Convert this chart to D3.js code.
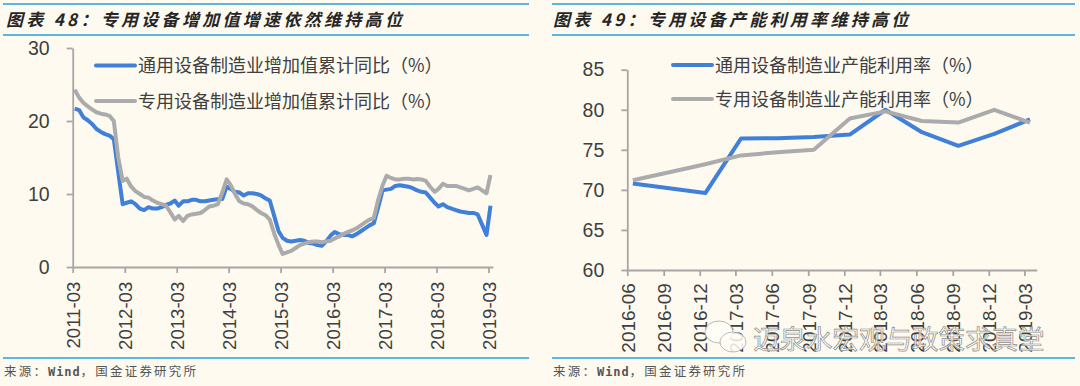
<!DOCTYPE html>
<html>
<head>
<meta charset="utf-8">
<script src="https://cdn.jsdelivr.net/npm/d3@7"></script>
<style>
    html, body { margin: 0; padding: 0; background: #fefaf0; }
    svg { display: block; }
    .axis path, .axis line { stroke: #a8a6a2; stroke-width: 1.8px; }
    .axis text { fill: #3f3f3f; font-family: "Liberation Sans", sans-serif; }
    .title { font-family: "Noto Sans CJK SC"; font-weight: 700; font-style: italic; font-size: 17px; fill: #262626; letter-spacing: 3.3px; }
    .source { font-family: "Noto Sans CJK SC"; font-size: 12.5px; fill: #555; letter-spacing: 2.2px; }
    .source .latin { font-family: "DejaVu Sans Mono"; font-size: 12px; font-weight: 700; letter-spacing: 0.9px; }
    .legend { font-family: "Noto Sans CJK SC"; font-size: 18px; fill: #404040; }
    .series { fill: none; stroke-width: 4px; stroke-linejoin: round; }
    .mark { font-family: "Noto Sans CJK SC"; font-size: 26.5px; fill: #fffdf6; fill-opacity: 0.75; stroke: #8d8d8d; stroke-width: 0.7px; }
</style>
</head>
<body>
<svg id="page" width="1080" height="386"></svg>
<script>
    var BLUE = "#4080d8", GRAY = "#ababab", RULE = "#5db7dd";
    // full width punctuation
    var COLON = "\uFF1A", COMMA = "\uFF0C", PCT = "\uFF08%\uFF09";

    // monthly, 2011-03 to 2019-03
    var generalAdded = [
        21.7, 21.5, 20.5, 20.1, 19.6, 18.9, 18.5, 18.2, 18.0, 17.5, 13.0, 8.6,
        8.8, 9.0, 8.6, 8.0, 7.8, 8.2, 8.0, 8.0, 8.2, 8.5, 8.7, 9.1,
        8.4, 9.0, 9.0, 9.2, 9.2, 9.0, 9.0, 9.1, 9.2, 9.3, 9.3, 11.0,
        10.7, 10.3, 10.2, 9.8, 10.1, 10.1, 10.0, 9.8, 9.4, 9.1, 7.0, 4.9,
        4.0, 3.6, 3.5, 3.6, 3.7, 3.6, 3.3, 3.2, 3.0, 2.9, 3.5, 4.3,
        4.8, 4.5, 4.4, 4.4, 4.2, 4.5, 4.9, 5.3, 5.7, 6.0, 8.2, 10.5,
        10.6, 10.7, 11.1, 11.2, 11.1, 11.0, 10.8, 10.5, 10.3, 10.2, 9.5, 8.8,
        8.3, 8.6, 8.2, 8.0, 7.8, 7.6, 7.5, 7.4, 7.4, 7.2, 5.8, 4.4, 8.4
    ];
    var specialAdded = [
        24.3, 23.2, 22.5, 22.0, 21.6, 21.2, 21.0, 20.9, 20.7, 20.0, 15.0, 11.8,
        12.1, 11.0, 10.4, 10.0, 9.6, 9.5, 9.1, 8.8, 8.6, 8.4, 7.5, 6.5,
        7.0, 6.3, 7.0, 7.2, 7.3, 7.4, 7.8, 8.3, 8.4, 8.6, 10.2, 12.0,
        11.2, 10.0, 9.0, 8.7, 8.6, 8.3, 7.8, 7.4, 7.1, 6.5, 4.6, 3.0,
        1.8, 2.0, 2.2, 2.6, 3.0, 3.2, 3.4, 3.5, 3.5, 3.4, 3.5, 3.6,
        3.9, 4.2, 4.5, 4.8, 5.0, 5.3, 5.7, 6.1, 6.5, 6.7, 9.2, 11.2,
        12.5, 12.2, 12.0, 12.0, 12.1, 12.1, 12.0, 12.05, 12.0, 11.8, 11.0, 10.3,
        10.7, 11.4, 11.1, 11.1, 11.1, 10.9, 10.7, 10.5, 10.7, 10.9, 10.5, 10.1, 12.6
    ];
    var addedTicks = ["2011-03", "2012-03", "2013-03", "2014-03", "2015-03", "2016-03", "2017-03", "2018-03", "2019-03"];

    // quarterly, 2016-06 to 2019-03
    var capacityTicks = ["2016-06", "2016-09", "2016-12", "2017-03", "2017-06", "2017-09", "2017-12", "2018-03", "2018-06", "2018-09", "2018-12", "2019-03"];
    var generalCapacity = [70.8, 70.2, 69.6, 76.4, 76.45, 76.6, 76.9, 80.0, 77.2, 75.5, 77.0, 78.8];
    var specialCapacity = [71.2, 72.2, 73.2, 74.3, 74.7, 75.0, 78.9, 79.8, 78.6, 78.4, 80.0, 78.4];

    var parseMonth = d3.utcParse("%Y-%m");
    var formatMonth = d3.utcFormat("%Y-%m");
    var svg = d3.select("#page");

    // observations sit mid-month, ticks on the first of the month
    function midMonth(date) { return d3.utcDay.offset(date, 14); }

    function drawPanel(panel) {
        var g = svg.append("g");
        var x = d3.scaleUtc().domain(panel.xDomain).range(panel.xRange);
        var y = d3.scaleLinear().domain(panel.yDomain).range(panel.yRange);
        var line = d3.line()
            .x(function(d) { return x(midMonth(d.date)); })
            .y(function(d) { return y(d.value); });

        // rules and header
        [4, 35, 358].forEach(function(ry) {
            g.append("line").attr("x1", panel.ruleX[0]).attr("x2", panel.ruleX[1])
                .attr("y1", ry).attr("y2", ry)
                .attr("stroke", RULE).attr("stroke-width", 1.8);
        });
        g.append("text").attr("class", "title").attr("x", panel.titleX).attr("y", 26).text(panel.title);
        var source = g.append("text").attr("class", "source").attr("x", panel.ruleX[0] + 1).attr("y", 375.5);
        source.append("tspan").text("来源" + COLON);
        source.append("tspan").attr("class", "latin").text("Wind");
        source.append("tspan").text(COMMA + "国金证券研究所");

        var xAxis = d3.axisBottom(x)
            .tickValues(panel.ticks.map(parseMonth))
            .tickFormat(formatMonth)
            .tickSizeInner(6).tickSizeOuter(0);
        g.append("g").attr("class", "axis")
            .attr("transform", "translate(0," + panel.yRange[0] + ")")
            .call(xAxis)
            .selectAll("text")
            .style("font-size", panel.xFont + "px")
            .attr("transform", "rotate(-90)")
            .attr("text-anchor", "end")
            .attr("x", -panel.xOffset).attr("y", 0).attr("dy", "0.36em");

        var yAxis = d3.axisLeft(y).tickValues(panel.yTicks).tickSizeInner(6).tickSizeOuter(0).tickPadding(17);
        g.append("g").attr("class", "axis")
            .attr("transform", "translate(" + panel.xRange[0] + ",0)")
            .call(yAxis)
            .selectAll("text").style("font-size", "19.5px");

        // gray goes on top of blue
        panel.series.forEach(function(s) {
            g.append("path").datum(s.values.map(function(v, i) {
                return { date: panel.dates[i], value: v };
            })).attr("class", "series").attr("stroke", s.color).attr("d", line);
        });

        panel.series.forEach(function(s, i) {
            var ly = panel.legendY[i];
            g.append("line").attr("x1", panel.legendX).attr("x2", panel.legendX + 39)
                .attr("y1", ly).attr("y2", ly)
                .attr("stroke", s.color).attr("stroke-width", 4).attr("stroke-linecap", "round");
            g.append("text").attr("class", "legend").attr("x", panel.legendX + 42).attr("y", ly + 6.5).text(s.name);
        });
    }

    drawPanel({
        title: "图表 48" + COLON + "专用设备增加值增速依然维持高位",
        titleX: 6,
        ruleX: [3, 529],
        ticks: addedTicks,
        dates: d3.utcMonth.range(parseMonth("2011-03"), parseMonth("2019-04")),
        xDomain: [parseMonth("2011-03"), parseMonth("2019-04")],
        xRange: [72.7, 492.9],
        yDomain: [0, 30],
        yRange: [267, 48],
        yTicks: [0, 10, 20, 30],
        xFont: 18.6,
        xOffset: 14.7,
        legendX: 96,
        legendY: [65.5, 101],
        series: [
            { name: "通用设备制造业增加值累计同比" + PCT, color: BLUE, values: generalAdded },
            { name: "专用设备制造业增加值累计同比" + PCT, color: GRAY, values: specialAdded }
        ]
    });

    drawPanel({
        title: "图表 49" + COLON + "专用设备产能利用率维持高位",
        titleX: 553,
        ruleX: [552, 1075],
        ticks: capacityTicks,
        dates: capacityTicks.map(parseMonth),
        xDomain: [parseMonth("2016-06"), parseMonth("2019-04")],
        xRange: [627.3, 1036.7],
        yDomain: [60, 85],
        yRange: [270, 69.7],
        yTicks: [60, 65, 70, 75, 80, 85],
        xFont: 18.9,
        xOffset: 13.3,
        legendX: 673,
        legendY: [65, 99],
        series: [
            { name: "通用设备制造业产能利用率" + PCT, color: BLUE, values: generalCapacity },
            { name: "专用设备制造业产能利用率" + PCT, color: GRAY, values: specialCapacity }
        ]
    });

    // account watermark over the right panel
    var mark = svg.append("g");
    [[719, 332, 14, 11], [733, 342, 13, 10]].forEach(function(e) {
        mark.append("ellipse").attr("cx", e[0]).attr("cy", e[1]).attr("rx", e[2]).attr("ry", e[3])
            .attr("fill", "#fffdf6").attr("fill-opacity", 0.85).attr("stroke", "#a9a9a9").attr("stroke-width", 0.8);
    });
    mark.append("text").attr("class", "mark").attr("x", 753).attr("y", 349).text("迈泉水宏观与政策求真堂");
</script>
</body>
</html>
